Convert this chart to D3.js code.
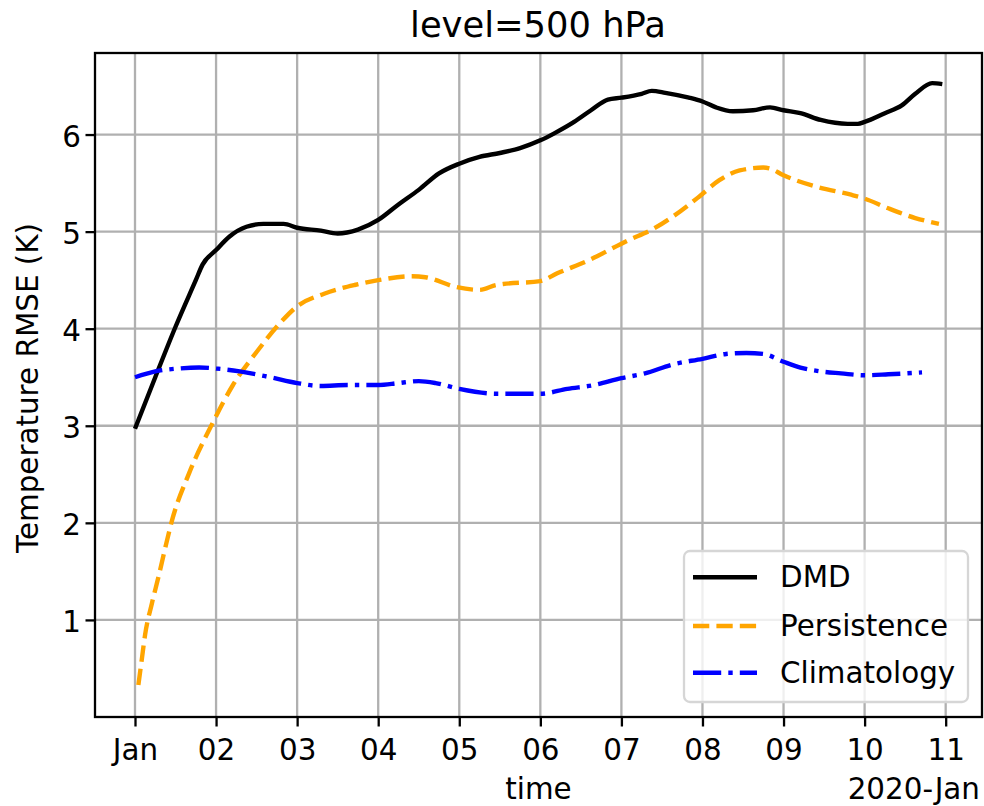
<!DOCTYPE html>
<html>
<head>
<meta charset="utf-8">
<script src="https://cdn.jsdelivr.net/npm/d3@7"></script>
<style>
  html, body { margin: 0; padding: 0; background: #fff; }
  svg { display: block; font-family: "DejaVu Sans", sans-serif; }
</style>
</head>
<body>
<svg id="chart" width="984" height="806"></svg>
<script>
// Forecast lead time (hours after 2020-01-01 00 UTC) and temperature RMSE (K) at 500 hPa
const dmdHours = [0, 6, 12, 18, 20, 24, 28, 33, 38, 44, 48, 55, 60, 66, 72, 78, 84, 90, 96, 102, 108, 114, 120, 124, 130, 135, 140, 144, 150, 153, 157, 164, 168, 172, 177, 183, 188, 192, 197, 203, 211, 214, 216, 222, 227, 231, 236, 239];
const dmdRmse = [2.97, 3.50, 4.02, 4.50, 4.66, 4.81, 4.95, 5.05, 5.08, 5.08, 5.04, 5.01, 4.98, 5.02, 5.12, 5.28, 5.43, 5.60, 5.70, 5.77, 5.81, 5.86, 5.94, 6.01, 6.13, 6.25, 6.36, 6.38, 6.42, 6.45, 6.43, 6.38, 6.34, 6.28, 6.24, 6.25, 6.28, 6.25, 6.22, 6.15, 6.11, 6.11, 6.13, 6.22, 6.30, 6.42, 6.53, 6.52];

const persistenceHours = [1, 2, 3, 5, 7, 9, 11, 16, 23, 29, 36, 43, 48, 56, 65, 72, 82, 86, 95, 102, 107, 109, 120, 125, 134, 146, 153, 159, 167, 173, 179, 186, 188, 192, 202, 212, 216, 223, 231, 238];
const persistenceRmse = [0.33, 0.59, 0.85, 1.17, 1.45, 1.75, 2.03, 2.51, 3.03, 3.42, 3.76, 4.06, 4.23, 4.36, 4.45, 4.50, 4.54, 4.53, 4.43, 4.40, 4.45, 4.46, 4.49, 4.57, 4.70, 4.91, 5.02, 5.15, 5.36, 5.53, 5.63, 5.66, 5.65, 5.58, 5.46, 5.38, 5.34, 5.24, 5.14, 5.08];

const climatologyHours = [0, 6, 13, 19, 24, 31, 40, 48, 55, 63, 72, 78, 84, 89, 96, 107, 116, 120, 128, 136, 144, 151, 159, 168, 175, 181, 186, 192, 197, 203, 209, 216, 223, 233];
const climatologyRmse = [3.50, 3.56, 3.59, 3.60, 3.59, 3.56, 3.50, 3.44, 3.41, 3.42, 3.42, 3.44, 3.46, 3.44, 3.38, 3.33, 3.33, 3.33, 3.38, 3.42, 3.49, 3.54, 3.63, 3.69, 3.74, 3.75, 3.74, 3.66, 3.60, 3.56, 3.54, 3.52, 3.53, 3.55];

const seriesNames = ["DMD", "Persistence", "Climatology"];
const yTickValues = [1, 2, 3, 4, 5, 6];
const xTickLabels = ["Jan", "02", "03", "04", "05", "06", "07", "08", "09", "10", "11"];

const DAY = 864e5;
const t0 = Date.UTC(2020, 0, 1);
const toDate = h => new Date(t0 + h * 36e5);

const svg = d3.select("#chart");
const frame = { left: 95, right: 982, top: 53, bottom: 717 };
const fs = 29.4;      // 10 pt
const lw = 4.4;       // 1.5 pt
const thin = 2.3;     // 0.8 pt

const x = d3.scaleUtc()
  .domain([new Date(t0 - 0.4934 * DAY), new Date(t0 + 10.448 * DAY)])
  .range([frame.left, frame.right]);
const y = d3.scaleLinear().domain([0, 6.84]).range([frame.bottom, frame.top]);

const xTickDates = xTickLabels.map((_, i) => new Date(t0 + i * DAY));

// grid
const grid = svg.append("g").attr("stroke", "#b0b0b0").attr("stroke-width", thin);
grid.selectAll("line.gx").data(xTickDates).join("line")
  .attr("x1", d => x(d)).attr("x2", d => x(d))
  .attr("y1", frame.top).attr("y2", frame.bottom);
grid.selectAll("line.gy").data(yTickValues).join("line")
  .attr("x1", frame.left).attr("x2", frame.right)
  .attr("y1", d => y(d)).attr("y2", d => y(d));

// series
const series = [
  { name: seriesNames[0], hours: dmdHours, vals: dmdRmse, color: "#000000", dash: null },
  { name: seriesNames[1], hours: persistenceHours, vals: persistenceRmse, color: "#FFA500", dash: "16.3,7.1" },
  { name: seriesNames[2], hours: climatologyHours, vals: climatologyRmse, color: "#0000FF", dash: "28.2,7.1,4.4,7.1" }
];

const line = d3.line()
  .x(d => x(toDate(d[0])))
  .y(d => y(d[1]))
  .curve(d3.curveMonotoneX);

svg.append("g").selectAll("path").data(series).join("path")
  .attr("d", s => line(s.hours.map((h, i) => [h, s.vals[i]])))
  .attr("fill", "none")
  .attr("stroke", s => s.color)
  .attr("stroke-width", lw)
  .attr("stroke-linejoin", "round")
  .attr("stroke-dasharray", s => s.dash);

// spines
svg.append("rect")
  .attr("x", frame.left).attr("y", frame.top)
  .attr("width", frame.right - frame.left).attr("height", frame.bottom - frame.top)
  .attr("fill", "none").attr("stroke", "#000").attr("stroke-width", thin);

// x axis
const xAxis = d3.axisBottom(x)
  .tickValues(xTickDates)
  .tickFormat((d, i) => xTickLabels[i])
  .tickSize(9.5);
const gx = svg.append("g").attr("transform", `translate(0,${frame.bottom})`).call(xAxis);
gx.select(".domain").remove();
gx.selectAll(".tick line").attr("stroke", "#000").attr("stroke-width", thin);
gx.selectAll(".tick text")
  .attr("font-family", "DejaVu Sans").attr("font-size", fs).attr("fill", "#000")
  .attr("dy", null).attr("y", 43);

// y axis
const yAxis = d3.axisLeft(y).tickValues(yTickValues).tickFormat(d3.format("d"))
  .tickSize(9.5);
const gy = svg.append("g").attr("transform", `translate(${frame.left},0)`).call(yAxis);
gy.select(".domain").remove();
gy.selectAll(".tick line").attr("stroke", "#000").attr("stroke-width", thin);
gy.selectAll(".tick text")
  .attr("font-family", "DejaVu Sans").attr("font-size", fs).attr("fill", "#000")
  .attr("dy", null).attr("y", 11.5).attr("x", -14);

// labels
const cx = (frame.left + frame.right) / 2;
svg.append("text").attr("x", cx - 0.5).attr("y", 37).attr("text-anchor", "middle")
  .attr("font-size", 35.3).attr("fill", "#000").text("level=500 hPa");
svg.append("text").attr("x", cx).attr("y", 799).attr("text-anchor", "middle")
  .attr("font-size", fs).attr("fill", "#000").text("time");
svg.append("text").attr("x", 980).attr("y", 799).attr("text-anchor", "end")
  .attr("font-size", fs).attr("fill", "#000").text("2020-Jan");
svg.append("text")
  .attr("transform", `translate(38,${(frame.top + frame.bottom) / 2 + 3}) rotate(-90)`)
  .attr("text-anchor", "middle").attr("font-size", fs).attr("fill", "#000")
  .text("Temperature RMSE (K)");

// legend
const lg = svg.append("g");
lg.append("rect")
  .attr("x", 684).attr("y", 551).attr("width", 284).attr("height", 151)
  .attr("rx", 6).attr("ry", 6)
  .attr("fill", "#fff").attr("fill-opacity", 0.8)
  .attr("stroke", "#d6d6d6").attr("stroke-width", thin);
const rowY = [577.3, 626, 672.7];
const rows = lg.selectAll("g.row").data(series).join("g")
  .attr("transform", (d, i) => `translate(0,${rowY[i]})`);
rows.append("line")
  .attr("x1", 693).attr("x2", 757).attr("y1", 0).attr("y2", 0)
  .attr("stroke", d => d.color).attr("stroke-width", lw)
  .attr("stroke-dasharray", d => d.dash);
rows.append("text").attr("x", 780).attr("y", 9.8)
  .attr("font-size", fs).attr("fill", "#000").text(d => d.name);
</script>
</body>
</html>
